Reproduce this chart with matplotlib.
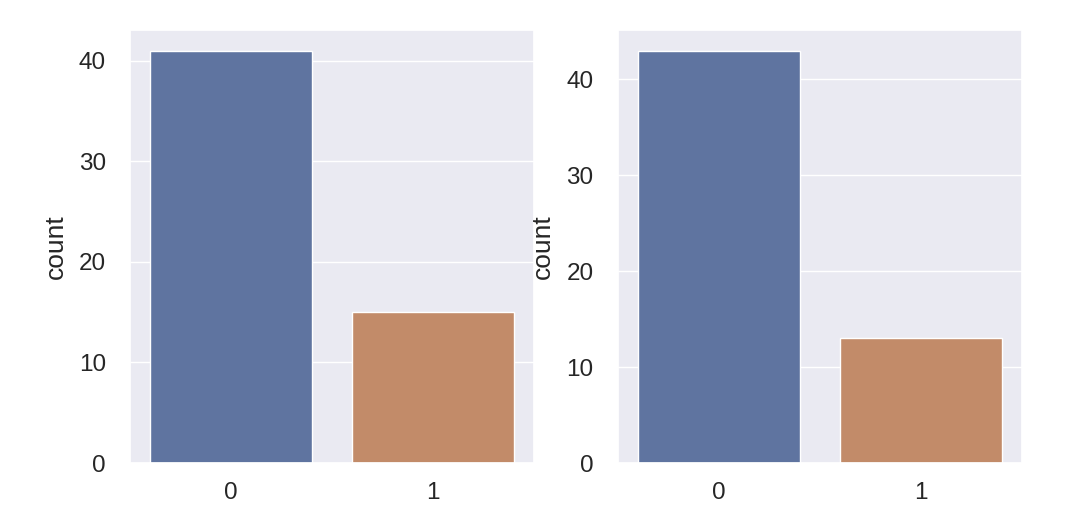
import matplotlib
matplotlib.use('Agg')
import matplotlib.pyplot as plt
from matplotlib.ticker import MultipleLocator
import seaborn as sns

# --- data ---
categories = ['0', '1']
counts_left = [41, 15]
counts_right = [43, 13]
bar_colors = ['#5f74a0', '#c28b69']

sns.set_theme()
plt.rcParams['font.family'] = ['Liberation Sans', 'DejaVu Sans']

fig = plt.figure(figsize=(10.74, 5.14), dpi=100)
ax1 = fig.add_axes([0.121, 0.0992, 0.376, 0.8424])
ax2 = fig.add_axes([0.575, 0.0992, 0.377, 0.8424])

for ax, counts in [(ax1, counts_left), (ax2, counts_right)]:
    sns.barplot(x=categories, y=counts, hue=categories, palette=bar_colors,
                saturation=1, legend=False, ax=ax)
    ax.yaxis.set_major_locator(MultipleLocator(10))
    ax.set_ylabel('count', fontsize=19, labelpad=8)
    ax.tick_params(axis='y', labelsize=17.5, pad=11.3)
    ax.tick_params(axis='x', labelsize=17.5, pad=7.8)

fig.savefig('out.png', dpi=100)
